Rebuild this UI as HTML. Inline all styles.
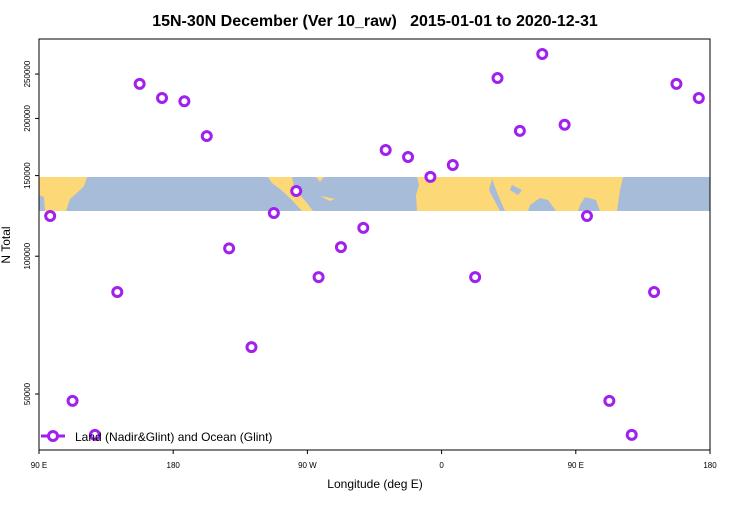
<!DOCTYPE html>
<html><head><meta charset="utf-8"><style>
body{margin:0;background:#fff;font-family:"Liberation Sans",sans-serif}
</style></head><body>
<svg width="750" height="500" viewBox="0 0 750 500" xmlns="http://www.w3.org/2000/svg" font-family="Liberation Sans, sans-serif">
<rect width="750" height="500" fill="#fff"/>
<text x="375" y="26" text-anchor="middle" font-size="16" font-weight="bold" style="white-space:pre">15N-30N December (Ver 10_raw)   2015-01-01 to 2020-12-31</text>
<g>
<rect x="39" y="177" width="671" height="34" fill="#a7bcd9"/>
<polygon fill="#fdd876" points="39,177 87,177 84,186 78,192 70,199 66,211 45,211 44,197 39,195"/>
<polygon fill="#fdd876" points="268,177 292,177 294,186 300,195 307,203 313,211 302,211 290,198 280,189 272,183"/>
<polygon fill="#fdd876" points="316,177 324,177 320,182"/>
<polygon fill="#fdd876" points="320,196 335,199 330,201"/>
<polygon fill="#fdd876" points="417,177 623,177 620,190 617,211 600,211 596,200 585,197 580,205 578,211 556,211 548,200 540,198 530,205 528,211 505,211 498,195 492,179 489,190 500,211 417,211 416,195 419,185"/>
<polygon fill="#a7bcd9" points="512,185 522,190 518,195 510,190"/>
</g>
<g id="yaxis"></g>
<g id="xaxis"></g>
<rect x="39" y="39" width="671" height="411" fill="none" stroke="#000" stroke-width="1"/>
<g id="points"></g>
<g>
<line x1="41" y1="436" x2="65" y2="436" stroke="#a020f0" stroke-width="3"/>
<circle cx="53" cy="436" r="4.5" fill="#fff" stroke="#a020f0" stroke-width="3"/>
<text x="75" y="441" font-size="12">Land (Nadir&amp;Glint) and Ocean (Glint)</text>
</g>
<text x="375" y="488" text-anchor="middle" font-size="12">Longitude (deg E)</text>
<text transform="translate(10,245) rotate(-90)" text-anchor="middle" font-size="12">N Total</text>
</svg>
<script>
const longitudes=[96,108,120,132,144,156,168,180,192,204,216,228,240,252,264,276,288,300,312,324,336,348,360,372,384,396,408,420,432,444];
const nTotal=[122400,48300,40700,83500,237900,221600,218000,183000,104000,63300,124300,138800,90000,104700,115300,170600,164700,149000,158200,90000,245000,187800,276500,193700,122400,48300,40700,83500,237900,221600];
const xTickValues=[90,162,234,306,378,450];
const xTickLabels=["90 E","180","90 W","0","90 E","180"];
const yTickValues=[50000,100000,150000,200000,250000];
const NS="http://www.w3.org/2000/svg";
function xs(d){return 39+(d-90)*671/360;}
function ys(v){return 394-198.8*Math.log(v/50000);}
const pts=document.getElementById('points');
longitudes.forEach((d,i)=>{
 const c=document.createElementNS(NS,'circle');
 c.setAttribute('cx',xs(d));c.setAttribute('cy',ys(nTotal[i]));c.setAttribute('r',4.5);
 c.setAttribute('fill','#fff');c.setAttribute('stroke','#a020f0');c.setAttribute('stroke-width',3);
 
 
 pts.appendChild(c);
});
const xa=document.getElementById('xaxis');
xTickValues.forEach((d,i)=>{
 const l=document.createElementNS(NS,'line');
 l.setAttribute('x1',xs(d));l.setAttribute('x2',xs(d));l.setAttribute('y1',450);l.setAttribute('y2',454);l.setAttribute('stroke','#000');
 
 
 xa.appendChild(l);
 const t=document.createElementNS(NS,'text');
 t.setAttribute('x',xs(d));t.setAttribute('y',468);t.setAttribute('text-anchor','middle');t.setAttribute('font-size','8');
 t.textContent=xTickLabels[i];
 
 
 xa.appendChild(t);
});
const ya=document.getElementById('yaxis');
yTickValues.forEach(v=>{
 const y=ys(v);
 const l=document.createElementNS(NS,'line');
 l.setAttribute('x1',35);l.setAttribute('x2',39);l.setAttribute('y1',y);l.setAttribute('y2',y);l.setAttribute('stroke','#000');
 
 
 ya.appendChild(l);
 const t=document.createElementNS(NS,'text');
 t.setAttribute('transform','translate(30,'+y+') rotate(-90)');t.setAttribute('text-anchor','middle');t.setAttribute('font-size','8');
 t.textContent=String(v);
 
 
 ya.appendChild(t);
});
</script>
</body></html>
